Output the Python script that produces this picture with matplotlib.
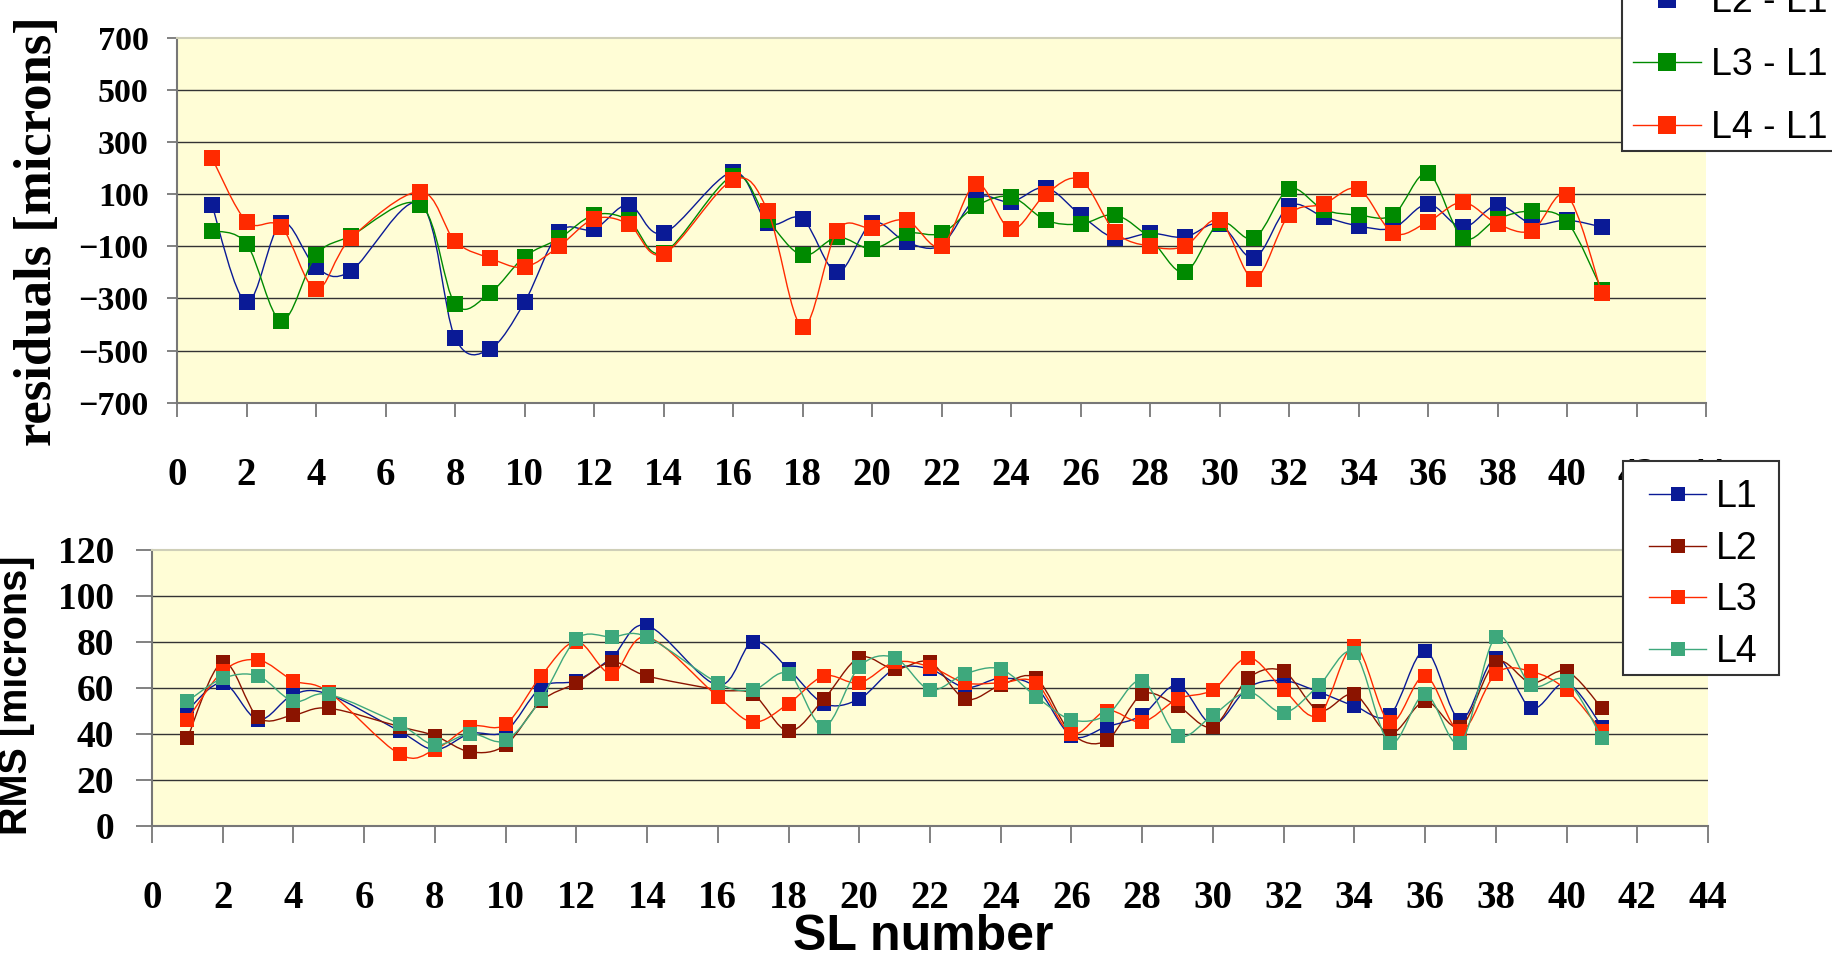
import matplotlib
matplotlib.use("Agg")
import matplotlib.pyplot as plt
from matplotlib.path import Path
from matplotlib.patches import PathPatch, Rectangle
from matplotlib.lines import Line2D
import numpy as np

# superlayer numbers (no data for 6 and 15)
sl = [1, 2, 3, 4, 5, 7, 8, 9, 10, 11, 12, 13, 14, 16, 17, 18, 19, 20, 21, 22,
      23, 24, 25, 26, 27, 28, 29, 30, 31, 32, 33, 34, 35, 36, 37, 38, 39, 40, 41]

# residuals between layers [microns]
res_l2_l1 = [60, -315, -10, -180, -195, 65, -450, -495, -315, -45, -35, 60, -50, 185, -10,
             5, -200, -10, -85, -95, 85, 70, 125, 20, -70, -50, -65, -15, -145, 55,
             13, -22, -30, 62, -28, 58, -15, 0, -26]
res_l3_l1 = [-40, -90, -385, -135, -60, 60, -320, -280, -140, -70, 20, 0, -125, 170, 0,
             -135, -65, -110, -50, -50, 55, 90, 0, -15, 20, -70, -200, -10, -70, 120,
             40, 20, 20, 180, -68, 5, 35, -6, -266]
res_l4_l1 = [240, -5, -25, -265, -70, 110, -80, -145, -180, -100, 5, -15, -130, 155, 35,
             -410, -40, -30, 0, -100, 140, -35, 100, 155, -45, -100, -100, 0, -225, 20,
             62, 120, -50, -6, 69, -14, -40, 96, -279]

# RMS of each layer [microns]
rms_l1 = [50, 62, 46, 57, 57, 41, 33, 40, 41, 60, 63, 73, 87, 61, 80, 68, 53, 55, 68, 68,
          60, 64, 60, 39, 43, 48, 61, 44, 60, 63, 58, 52, 48, 76, 46, 73, 51, 62, 43]
rms_l2 = [38, 71, 47, 48, 51, 43, 39, 32, 35, 54, 62, 71, 65, 59, 57, 41, 55, 73, 68, 71,
          55, 61, 64, 40, 37, 57, 52, 43, 64, 67, 50, 57, 40, 54, 43, 71, 62, 67, 51]
rms_l3 = [46, 67, 72, 63, 58, 31, 33, 43, 44, 65, 80, 66, 82, 56, 45, 53, 65, 62, 71, 69,
          62, 62, 62, 40, 50, 45, 55, 59, 73, 59, 48, 78, 45, 65, 41, 66, 67, 59, 41]
rms_l4 = [54, 64, 65, 54, 57, 44, 35, 40, 37, 55, 81, 82, 82, 62, 59, 66, 43, 69, 73, 59,
          66, 68, 56, 46, 48, 63, 39, 48, 58, 49, 61, 75, 36, 57, 36, 82, 61, 63, 38]

res_labels = ["L2 - L1", "L3 - L1", "L4 - L1"]
rms_labels = ["L1", "L2", "L3", "L4"]

res_ticks = [-700, -500, -300, -100, 100, 300, 500, 700]
rms_ticks = [0, 20, 40, 60, 80, 100, 120]
sl_ticks = list(range(0, 45, 2))

res_colors = ["#0a1a96", "#008a00", "#ff2a00"]
rms_colors = ["#0a1a96", "#8b1400", "#ff2a00", "#3ea87c"]
plot_bg = "#fffdd6"

W, H = 1832, 955
plt.rcParams["font.family"] = "Liberation Serif"
plt.rcParams["font.weight"] = "bold"

fig = plt.figure(figsize=(W / 100, H / 100), dpi=100)


def frac_box(left, top, right, bottom):
    return [left / W, 1 - bottom / H, (right - left) / W, (bottom - top) / H]


def smooth_path(x, y):
    """Smoothed polyline: cubic Bezier segments through the points."""
    pts = np.column_stack([x, y]).astype(float)
    n = len(pts)
    verts = [pts[0]]
    codes = [Path.MOVETO]
    for i in range(n - 1):
        p0 = pts[i - 1] if i > 0 else pts[i]
        p1, p2 = pts[i], pts[i + 1]
        p3 = pts[i + 2] if i + 2 < n else pts[i + 1]
        verts += [p1 + (p2 - p0) / 6.0, p2 - (p3 - p1) / 6.0, p2]
        codes += [Path.CURVE4] * 3
    return Path(verts, codes)


def style_axes(ax, yticks, xtick_len, ytick_len, xpad, ypad, xsize, ysize):
    ax.set_facecolor(plot_bg)
    ax.set_xlim(0, 44)
    ax.set_ylim(yticks[0], yticks[-1])
    ax.set_xticks(sl_ticks)
    ax.set_yticks(yticks)
    ax.hlines(yticks[1:-1], 0, 44, colors="#333333", lw=1.0, zorder=1)
    for s in ("left", "bottom"):
        ax.spines[s].set_color("#777777")
        ax.spines[s].set_linewidth(1.5)
    ax.spines["top"].set_color("#cfcfb8")
    ax.spines["top"].set_linewidth(1.5)
    ax.spines["right"].set_visible(False)
    ax.tick_params(axis="x", length=xtick_len, width=1.3, color="#777777",
                   pad=xpad, labelsize=xsize)
    ax.tick_params(axis="y", length=ytick_len, width=1.3, color="#777777",
                   pad=ypad, labelsize=ysize)


def draw_series(ax, x, ys, colors, ms):
    for i, (y, c) in enumerate(zip(ys, colors)):
        ax.add_patch(PathPatch(smooth_path(x, y), fill=False, edgecolor=c,
                               lw=1.0, zorder=3 + i))
        ax.plot(x, y, linestyle="none", marker="s", ms=ms, mew=0, color=c,
                zorder=3.5 + i)


# ---- residuals panel ----
ax1 = fig.add_axes(frac_box(177, 37.7, 1706, 402.7))
style_axes(ax1, res_ticks, 10, 7.5, 29, 13, 28, 24.5)
draw_series(ax1, sl, [res_l2_l1, res_l3_l1, res_l4_l1], res_colors, 11.5)
ax1.set_ylabel("residuals [microns]", fontsize=38, fontweight="bold",
               ha="center", va="center")
ax1.yaxis.set_label_coords((38.5 - 177) / 1529, (402.7 - 231) / 365)

# ---- RMS panel ----
ax2 = fig.add_axes(frac_box(152, 549.5, 1708, 825.5))
style_axes(ax2, rms_ticks, 12, 11.5, 27, 16, 28, 27)
draw_series(ax2, sl, [rms_l1, rms_l2, rms_l3, rms_l4], rms_colors, 10)
ax2.set_ylabel("RMS [microns]", fontsize=28.5, fontfamily="Liberation Sans",
               fontweight="bold", ha="center", va="center")
ax2.yaxis.set_label_coords((16 - 152) / 1556, (825.5 - 695) / 276)
ax2.set_xlabel("SL number", fontsize=36, fontfamily="Liberation Sans",
               fontweight="bold", ha="center", va="center")
ax2.xaxis.set_label_coords((923 - 152) / 1556, (825.5 - 937) / 276)

# ---- legends (figure level, boxed) ----
leg_font = {"family": "Liberation Sans", "weight": "normal", "size": 27}


def handles(colors, ms):
    return [Line2D([], [], color=c, lw=1.0, marker="s", ms=ms, mew=0) for c in colors]


fig.add_artist(Rectangle((1622 / W, 1 - 151 / H), 300 / W, 200 / H,
                         transform=fig.transFigure, facecolor="white",
                         edgecolor="#333333", lw=1.5, zorder=4.8))
fig.legend(handles(res_colors, 12.5), res_labels, loc="upper left",
           bbox_to_anchor=(1633 / W, 1 - (5 - 21) / H), frameon=False,
           prop=leg_font, borderpad=0, borderaxespad=0, handlelength=1.8,
           handletextpad=0.27, labelspacing=0.72)

fig.add_artist(Rectangle((1623 / W, 1 - 675 / H), (1779 - 1623) / W, (675 - 461) / H,
                         transform=fig.transFigure, facecolor="white",
                         edgecolor="#333333", lw=1.5, zorder=4.8))
fig.legend(handles(rms_colors, 10.5), rms_labels, loc="upper left",
           bbox_to_anchor=(1649 / W, 1 - (495 - 16) / H), frameon=False,
           prop=leg_font, borderpad=0, borderaxespad=0, handlelength=1.52,
           handletextpad=0.27, labelspacing=0.42)

fig.savefig("out.png", dpi=100, facecolor="white")
